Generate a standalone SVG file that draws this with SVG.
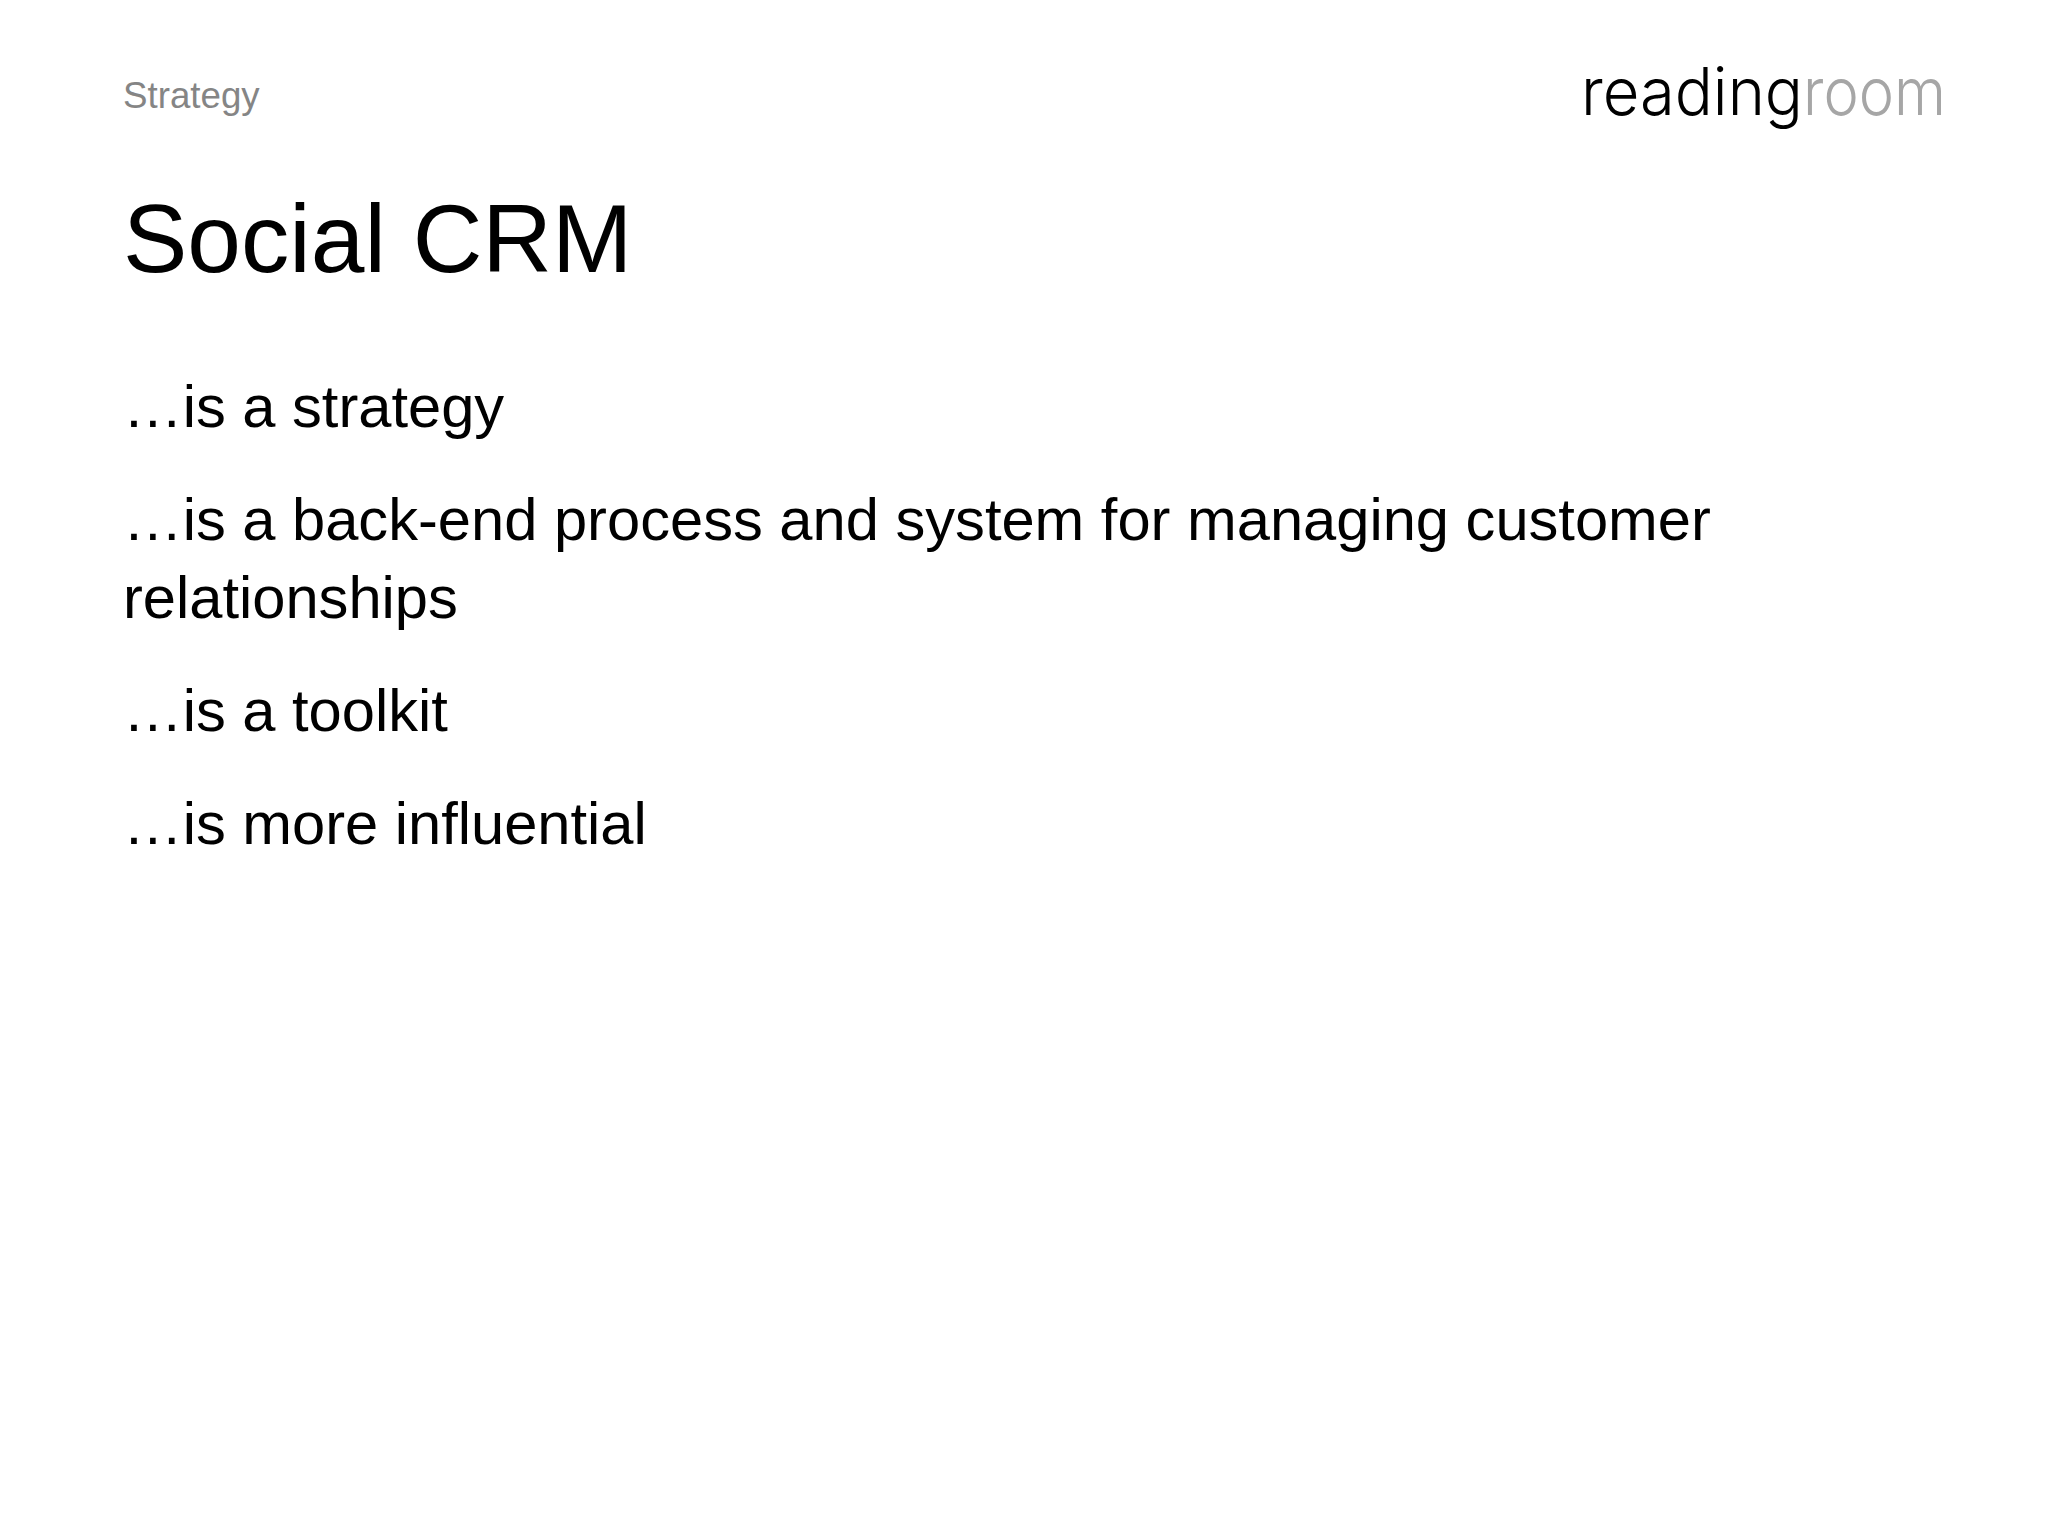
<svg xmlns="http://www.w3.org/2000/svg" width="2048" height="1536" viewBox="0 0 2048 1536">
<style>
text{font-family:"Liberation Sans",Arial,sans-serif;fill:#000}
.b{font-size:59.65px}
.l{font-family:Inter,"Liberation Sans",sans-serif;font-weight:300;font-size:66px}
</style>
<rect width="2048" height="1536" fill="#fff"/>
<g id="section"><text x="123" y="108" font-size="36.7" style="fill:#858585">Strategy</text></g>
<g id="logo">
<text class="l" x="1581" y="115" textLength="222" lengthAdjust="spacingAndGlyphs">reading</text>
<text class="l" x="1803" y="115" textLength="143" lengthAdjust="spacingAndGlyphs" style="fill:#a6a6a6">room</text>
</g>
<g id="title"><text x="123" y="272" font-size="96.5">Social CRM</text></g>
<g id="body">
<text class="b" x="123" y="427">…is a strategy</text>
<text class="b" x="123" y="540">…is a back-end process and system for managing customer</text>
<text class="b" x="123" y="618">relationships</text>
<text class="b" x="123" y="731">…is a toolkit</text>
<text class="b" x="123" y="844">…is more influential</text>
</g>
</svg>
